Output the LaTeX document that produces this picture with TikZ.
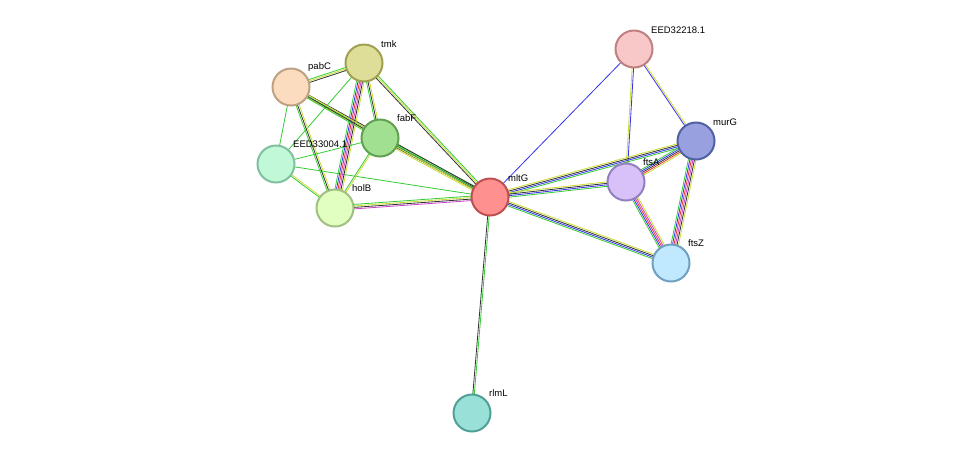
\documentclass[tikz,border=0pt]{standalone}
\usepackage{fontspec}
\setmainfont{Liberation Sans}
\usetikzlibrary{calc}
\definecolor{eg}{HTML}{33CC33}
\definecolor{eb}{HTML}{3333EE}
\definecolor{ek}{HTML}{333333}
\definecolor{ey}{HTML}{CCDD33}
\definecolor{er}{HTML}{EE3333}
\definecolor{em}{HTML}{CC44CC}
\newcommand{\sedge}[3]{%
  \foreach \c [count=\i] in {#3} {\xdef\nn{\i}}%
  \foreach \c [count=\i] in {#3} {%
    \pgfmathsetmacro{\o}{(\i-(\nn+1)/2)*1.5}%
    \draw[\c, line width=0.8pt] ($(#1)!\o pt!90:(#2)$) -- ($(#2)!\o pt!-90:(#1)$);}}
\begin{document}
\begin{tikzpicture}[x=1pt,y=-1pt,
  prot/.style={circle, minimum size=37pt, inner sep=0pt, line width=2pt},
  lab/.style={font=\fontsize{9.5}{11}\selectfont, anchor=south west, inner sep=1pt}]
\fill[white] (0,0) rectangle (976,459);
\useasboundingbox (0,0) rectangle (976,459);
\coordinate (tmk) at (364,63);
\coordinate (pabC) at (291,87);
\coordinate (fabF) at (380,138);
\coordinate (E3) at (276,164);
\coordinate (holB) at (335,208);
\coordinate (mltG) at (490,197);
\coordinate (E2) at (634,49);
\coordinate (murG) at (696,141);
\coordinate (ftsA) at (626,182);
\coordinate (ftsZ) at (671,263);
\coordinate (rlmL) at (472,413);
\sedge{mltG}{rlmL}{ek,eg}
\sedge{mltG}{E2}{eb}
\sedge{E2}{murG}{eb,ey}
\sedge{E2}{ftsA}{ey,eb}
\sedge{mltG}{murG}{eg,eb,ek,ey}
\sedge{mltG}{ftsA}{eg,eb,ek,ey}
\sedge{mltG}{ftsZ}{eg,eb,ek,ey}
\sedge{murG}{ftsA}{eg,eb,ek,er,ey}
\sedge{murG}{ftsZ}{eg,eb,er,em,ek,ey}
\sedge{ftsA}{ftsZ}{eg,eb,er,em,ey}
\sedge{mltG}{fabF}{eg,ek,ek,ey}
\sedge{mltG}{tmk}{eg,ey,ek}
\sedge{mltG}{pabC}{ek,eg,ey}
\sedge{mltG}{holB}{eg,ey,ek,em}
\sedge{mltG}{E3}{eg}
\sedge{tmk}{fabF}{eg,ek,ey}
\sedge{tmk}{holB}{eg,eb,er,em,ek,ey}
\sedge{tmk}{pabC}{eg,ey,ek}
\sedge{tmk}{E3}{eg}
\sedge{pabC}{fabF}{eg,ek,ey}
\sedge{pabC}{holB}{eg,ek,ey}
\sedge{pabC}{E3}{eg}
\sedge{fabF}{holB}{eg,ey}
\sedge{fabF}{E3}{eg}
\sedge{E3}{holB}{eg,ey}
\node[prot, fill={rgb,255:red,222;green,222;blue,153}, draw={rgb,255:red,160;green,160;blue,80}] (ntmk) at (tmk) {};
\node[prot, fill={rgb,255:red,252;green,220;blue,190}, draw={rgb,255:red,190;green,160;blue,130}] (npabC) at (pabC) {};
\node[prot, fill={rgb,255:red,160;green,224;blue,144}, draw={rgb,255:red,96;green,160;blue,80}] (nfabF) at (fabF) {};
\node[prot, fill={rgb,255:red,192;green,248;blue,216}, draw={rgb,255:red,128;green,192;blue,160}] (nE3) at (E3) {};
\node[prot, fill={rgb,255:red,224;green,255;blue,192}, draw={rgb,255:red,160;green,192;blue,128}] (nholB) at (holB) {};
\node[prot, fill={rgb,255:red,255;green,144;blue,144}, draw={rgb,255:red,192;green,80;blue,80}] (nmltG) at (mltG) {};
\node[prot, fill={rgb,255:red,248;green,200;blue,200}, draw={rgb,255:red,192;green,128;blue,128}] (nE2) at (E2) {};
\node[prot, fill={rgb,255:red,152;green,160;blue,224}, draw={rgb,255:red,80;green,96;blue,160}] (nmurG) at (murG) {};
\node[prot, fill={rgb,255:red,216;green,192;blue,248}, draw={rgb,255:red,144;green,128;blue,192}] (nftsA) at (ftsA) {};
\node[prot, fill={rgb,255:red,192;green,232;blue,255}, draw={rgb,255:red,112;green,160;blue,192}] (nftsZ) at (ftsZ) {};
\node[prot, fill={rgb,255:red,152;green,224;blue,216}, draw={rgb,255:red,80;green,160;blue,152}] (nrlmL) at (rlmL) {};
\node[lab] (ltmk) at ($(tmk)+(16,-14)$) {tmk};
\node[lab] (lpabC) at ($(pabC)+(16,-14)$) {pabC};
\node[lab] (lfabF) at ($(fabF)+(16,-15)$) {fabF};
\node[lab] (lE3) at ($(E3)+(16,-15)$) {EED33004.1};
\node[lab] (lholB) at ($(holB)+(16,-15)$) {holB};
\node[lab] (lmltG) at ($(mltG)+(17,-14)$) {mltG};
\node[lab] (lE2) at ($(E2)+(16,-14)$) {EED32218.1};
\node[lab] (lmurG) at ($(murG)+(16,-14)$) {murG};
\node[lab] (lftsA) at ($(ftsA)+(16,-15)$) {ftsA};
\node[lab] (lftsZ) at ($(ftsZ)+(16,-15)$) {ftsZ};
\node[lab] (lrlmL) at ($(rlmL)+(16,-15)$) {rlmL};
\end{tikzpicture}
\end{document}
